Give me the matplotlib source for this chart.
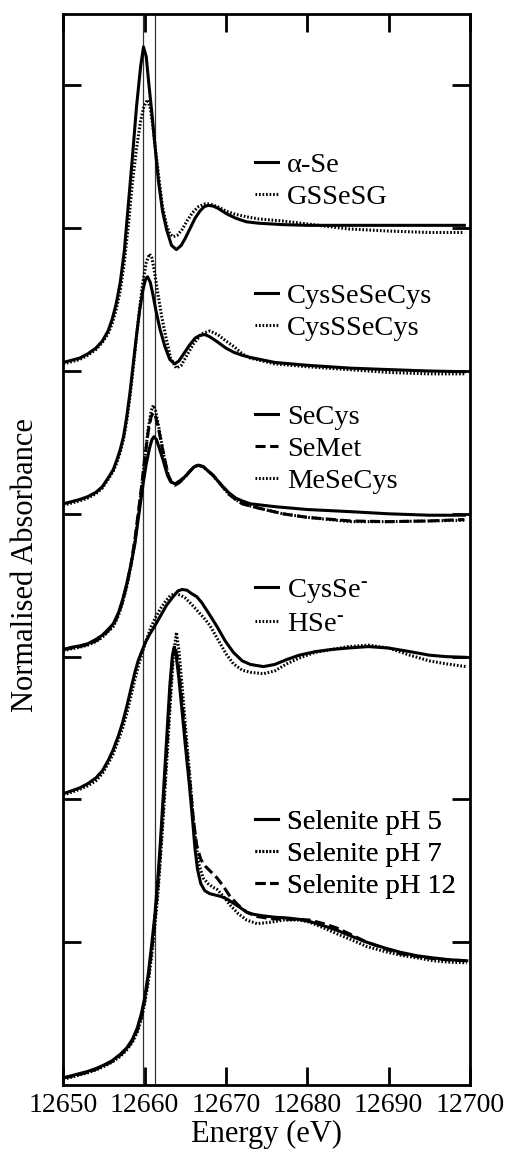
import matplotlib
matplotlib.use("Agg")
import matplotlib.pyplot as plt

plt.rcParams['font.family'] = ['Liberation Serif', 'DejaVu Serif']
plt.rcParams['mathtext.fontset'] = 'custom'
plt.rcParams['mathtext.rm'] = 'Liberation Serif'
plt.rcParams['mathtext.it'] = 'Liberation Serif:italic'

# ---------------- data (energy in eV, absorbance incl. vertical offset) -------------
# Group 1
aSe_E = [12650.0, 12651.0, 12652.0, 12653.0, 12654.0, 12654.8, 12655.5, 12656.0, 12656.5,
         12657.0, 12657.5, 12658.0, 12658.5, 12659.0, 12659.5, 12659.86, 12660.2, 12660.5,
         12660.9, 12661.3, 12661.7, 12662.2, 12662.7, 12663.3, 12663.9, 12664.5, 12665.0,
         12665.6, 12666.2, 12666.8, 12667.3, 12667.8, 12668.4, 12669.0, 12670.1, 12671.2,
         12672.5, 12674.0, 12677.0, 12680.0, 12685.0, 12690.0, 12695.0, 12699.3]
aSe_Y = [5.06, 5.075, 5.09, 5.12, 5.16, 5.21, 5.28, 5.36, 5.47,
         5.62, 5.84, 6.17, 6.50, 6.85, 7.13, 7.27, 7.20, 7.02,
         6.80, 6.56, 6.33, 6.12, 5.99, 5.88, 5.85, 5.88, 5.93,
         6.00, 6.07, 6.12, 6.15, 6.16, 6.155, 6.14, 6.10, 6.07,
         6.045, 6.035, 6.025, 6.02, 6.02, 6.02, 6.02, 6.02]
gss_E = [12650.0, 12651.0, 12652.0, 12653.0, 12654.0, 12654.8, 12655.5, 12656.0, 12656.5,
         12657.0, 12657.5, 12658.0, 12658.5, 12659.0, 12659.5, 12659.9, 12660.36, 12660.7,
         12661.0, 12661.4, 12661.8, 12662.2, 12662.7, 12663.1, 12663.5, 12664.0, 12664.6,
         12665.2, 12665.9, 12666.6, 12667.4, 12668.0, 12669.0, 12670.0, 12671.0, 12672.5,
         12674.0, 12677.0, 12680.0, 12685.0, 12690.0, 12695.0, 12699.3]
gss_Y = [5.05, 5.065, 5.08, 5.11, 5.15, 5.20, 5.26, 5.33, 5.43,
         5.56, 5.76, 6.02, 6.32, 6.56, 6.75, 6.85, 6.90, 6.84,
         6.72, 6.52, 6.33, 6.15, 6.02, 5.96, 5.94, 5.95, 5.99,
         6.05, 6.11, 6.15, 6.17, 6.17, 6.15, 6.12, 6.10, 6.08,
         6.065, 6.05, 6.03, 5.995, 5.98, 5.97, 5.97]
# Group 2
cssc_E = [12650.0, 12651.0, 12652.0, 12653.0, 12654.0, 12654.8, 12655.5, 12656.15, 12656.6,
          12657.0, 12657.4, 12657.8, 12658.2, 12658.6, 12659.0, 12659.4, 12659.8, 12660.1,
          12660.36, 12660.7, 12661.0, 12661.4, 12661.9, 12662.5, 12663.1, 12663.7, 12664.2,
          12664.8, 12665.5, 12666.2, 12666.8, 12667.4, 12668.0, 12668.8, 12670.0, 12671.0,
          12672.0, 12673.0, 12676.0, 12680.0, 12685.3, 12690.0, 12695.0, 12699.3]
cssc_Y = [4.07, 4.085, 4.10, 4.12, 4.15, 4.19, 4.25, 4.31, 4.38,
          4.45, 4.54, 4.68, 4.85, 5.05, 5.25, 5.43, 5.57, 5.64,
          5.66, 5.62, 5.54, 5.42, 5.29, 5.17, 5.08, 5.05, 5.07,
          5.12, 5.18, 5.23, 5.25, 5.255, 5.24, 5.21, 5.16, 5.13,
          5.11, 5.095, 5.06, 5.04, 5.02, 5.01, 5.00, 4.995]
cs_sc_E = [12650.0, 12651.0, 12652.0, 12653.0, 12654.0, 12654.8, 12655.5, 12656.15, 12656.6,
           12657.0, 12657.4, 12657.8, 12658.2, 12658.6, 12659.0, 12659.4, 12659.8, 12660.2,
           12660.6, 12660.9, 12661.2, 12661.6, 12662.1, 12662.6, 12663.2, 12663.9, 12664.5,
           12665.2, 12666.0, 12667.0, 12668.0, 12669.0, 12670.0, 12671.0, 12672.0, 12673.0,
           12676.0, 12680.0, 12685.0, 12690.0, 12695.0, 12699.3]
cs_sc_Y = [4.06, 4.075, 4.09, 4.11, 4.14, 4.18, 4.24, 4.30, 4.36,
           4.43, 4.52, 4.65, 4.82, 5.02, 5.24, 5.45, 5.63, 5.76,
           5.82, 5.79, 5.70, 5.55, 5.38, 5.24, 5.09, 5.02, 5.04,
           5.11, 5.19, 5.26, 5.28, 5.255, 5.21, 5.17, 5.12, 5.09,
           5.05, 5.03, 5.01, 4.99, 4.98, 4.98]
# Group 3
secys_E = [12650.0, 12651.0, 12652.0, 12653.0, 12654.0, 12654.8, 12655.5, 12656.15, 12656.8,
           12657.3, 12657.8, 12658.3, 12658.8, 12659.2, 12659.5, 12659.84, 12660.2, 12660.6,
           12660.9, 12661.15, 12661.45, 12661.8, 12662.3, 12662.8, 12663.2, 12663.73, 12664.3,
           12664.96, 12665.6, 12666.1, 12666.6, 12667.2, 12667.8, 12668.4, 12669.3, 12670.3,
           12671.2, 12672.0, 12673.0, 12676.0, 12680.0, 12685.3, 12690.0, 12695.0, 12699.3]
secys_Y = [3.05, 3.065, 3.075, 3.09, 3.12, 3.15, 3.19, 3.23, 3.31,
           3.40, 3.51, 3.64, 3.79, 3.96, 4.08, 4.22, 4.35, 4.46,
           4.52, 4.54, 4.52, 4.46, 4.37, 4.27, 4.225, 4.21, 4.23,
           4.26, 4.30, 4.33, 4.34, 4.33, 4.30, 4.27, 4.21, 4.15,
           4.11, 4.09, 4.07, 4.05, 4.03, 4.015, 4.00, 3.99, 3.99]
semet_E = [12650.0, 12651.0, 12652.0, 12653.0, 12654.0, 12654.8, 12655.5, 12656.15, 12656.8,
           12657.3, 12657.8, 12658.3, 12658.8, 12659.2, 12659.6, 12660.0, 12660.45, 12660.8,
           12661.07, 12661.35, 12661.7, 12662.1, 12662.5, 12662.9, 12663.3, 12663.73, 12664.3,
           12664.96, 12665.6, 12666.1, 12666.6, 12667.2, 12667.8, 12668.4, 12669.3, 12670.3,
           12671.2, 12672.0, 12674.0, 12677.0, 12680.0, 12685.3, 12690.0, 12695.0, 12699.3]
semet_Y = [3.05, 3.06, 3.07, 3.085, 3.11, 3.14, 3.18, 3.22, 3.30,
           3.39, 3.50, 3.64, 3.82, 4.00, 4.18, 4.38, 4.58, 4.68,
           4.71, 4.68, 4.60, 4.48, 4.37, 4.27, 4.22, 4.20, 4.22,
           4.26, 4.30, 4.33, 4.34, 4.33, 4.30, 4.27, 4.21, 4.14,
           4.10, 4.07, 4.04, 4.00, 3.975, 3.95, 3.945, 3.95, 3.96]
mesec_E = [12650.0, 12651.0, 12652.0, 12653.0, 12654.0, 12654.8, 12655.5, 12656.15, 12656.8,
           12657.3, 12657.8, 12658.3, 12658.8, 12659.2, 12659.6, 12660.0, 12660.45, 12660.8,
           12661.07, 12661.35, 12661.7, 12662.1, 12662.5, 12662.9, 12663.3, 12663.8, 12664.3,
           12665.0, 12665.6, 12666.1, 12666.6, 12667.2, 12667.8, 12668.4, 12669.3, 12670.3,
           12671.2, 12672.0, 12674.0, 12677.0, 12680.0, 12685.3, 12690.0, 12695.0, 12699.3]
mesec_Y = [3.04, 3.055, 3.065, 3.08, 3.105, 3.135, 3.175, 3.21, 3.29,
           3.38, 3.49, 3.63, 3.80, 3.98, 4.17, 4.38, 4.60, 4.72,
           4.76, 4.72, 4.62, 4.49, 4.37, 4.27, 4.22, 4.21, 4.22,
           4.26, 4.30, 4.33, 4.34, 4.33, 4.30, 4.27, 4.21, 4.14,
           4.10, 4.07, 4.04, 4.00, 3.975, 3.945, 3.945, 3.95, 3.955]
# Group 4
cysse_E = [12650.0, 12651.0, 12652.0, 12653.0, 12654.0, 12654.8, 12655.5, 12656.15, 12656.8,
           12657.3, 12657.8, 12658.3, 12658.8, 12659.2, 12659.6, 12660.1, 12660.66, 12661.3,
           12661.9, 12662.7, 12663.5, 12664.1, 12664.6, 12665.2, 12665.8, 12666.4, 12667.0,
           12667.8, 12668.9, 12669.9, 12670.9, 12672.0, 12673.0, 12674.6, 12676.0, 12677.5,
           12679.0, 12681.0, 12683.0, 12685.0, 12687.5, 12690.0, 12692.6, 12695.0, 12697.0,
           12699.5]
cysse_Y = [2.04, 2.06, 2.08, 2.11, 2.15, 2.20, 2.27, 2.35, 2.45,
           2.54, 2.65, 2.77, 2.89, 2.97, 3.03, 3.10, 3.16, 3.22,
           3.28, 3.36, 3.42, 3.46, 3.47, 3.465, 3.44, 3.42, 3.38,
           3.31, 3.21, 3.11, 3.03, 2.97, 2.945, 2.93, 2.945, 2.98,
           3.01, 3.035, 3.05, 3.06, 3.07, 3.06, 3.035, 3.01, 3.00,
           2.995]
hse_E = [12650.0, 12651.0, 12652.0, 12653.0, 12654.0, 12654.8, 12655.5, 12656.15, 12656.8,
         12657.3, 12657.8, 12658.3, 12658.8, 12659.3, 12659.84, 12660.3, 12660.8, 12661.4,
         12662.0, 12662.6, 12663.2, 12663.8, 12664.4, 12665.0, 12665.7, 12666.5, 12667.3,
         12668.0, 12669.0, 12670.0, 12670.9, 12672.0, 12673.0, 12674.6, 12676.0, 12677.5,
         12679.0, 12681.0, 12683.0, 12685.0, 12687.5, 12690.0, 12692.6, 12695.0, 12697.0,
         12699.5]
hse_Y = [2.03, 2.05, 2.07, 2.095, 2.13, 2.18, 2.25, 2.32, 2.42,
         2.50, 2.60, 2.72, 2.84, 2.95, 3.05, 3.13, 3.21, 3.28,
         3.34, 3.39, 3.43, 3.44, 3.43, 3.41, 3.37, 3.32, 3.27,
         3.22, 3.12, 3.02, 2.95, 2.905, 2.89, 2.88, 2.90, 2.95,
         2.99, 3.03, 3.05, 3.07, 3.08, 3.06, 3.01, 2.97, 2.95,
         2.93]
# Group 5
sel5_E = [12650.0, 12651.0, 12652.0, 12653.0, 12654.0, 12655.0, 12656.0, 12657.0, 12657.8,
          12658.5, 12659.1, 12659.6, 12660.0, 12660.45, 12660.9, 12661.27, 12661.6, 12661.9,
          12662.3, 12662.7, 12663.1, 12663.4, 12663.6, 12663.85, 12664.2, 12664.6, 12665.0,
          12665.5, 12665.9, 12666.2, 12666.5, 12666.9, 12667.4, 12668.0, 12668.7, 12669.4,
          12670.2, 12671.0, 12671.8, 12672.55, 12673.4, 12674.5, 12676.0, 12677.5, 12679.0,
          12680.3, 12682.0, 12683.6, 12685.5, 12687.3, 12689.5, 12691.4, 12693.5, 12695.5,
          12697.5, 12699.6]
sel5_Y = [0.05, 0.065, 0.08, 0.095, 0.115, 0.14, 0.17, 0.215, 0.26,
          0.32, 0.40, 0.50, 0.61, 0.78, 1.00, 1.20, 1.43, 1.67,
          2.04, 2.42, 2.80, 3.00, 3.06, 3.02, 2.85, 2.62, 2.38,
          2.10, 1.85, 1.65, 1.51, 1.41, 1.36, 1.34, 1.33, 1.32,
          1.30, 1.27, 1.24, 1.21, 1.195, 1.185, 1.175, 1.17, 1.16,
          1.145, 1.115, 1.085, 1.04, 1.00, 0.96, 0.93, 0.905, 0.89,
          0.877, 0.87]
sel7_E = [12650.0, 12651.0, 12652.0, 12653.0, 12654.0, 12655.0, 12656.0, 12657.0, 12657.8,
          12658.5, 12659.1, 12659.6, 12660.0, 12660.45, 12660.9, 12661.27, 12661.6, 12661.9,
          12662.3, 12662.7, 12663.1, 12663.5, 12663.9, 12664.2, 12664.6, 12665.0, 12665.5,
          12665.9, 12666.3, 12666.7, 12667.2, 12667.8, 12668.4, 12668.9, 12669.7, 12670.5,
          12671.5, 12672.55, 12673.8, 12675.5, 12677.1, 12679.0, 12680.3, 12682.0, 12683.6,
          12685.5, 12687.3, 12689.5, 12691.4, 12693.5, 12695.5, 12697.5, 12699.6]
sel7_Y = [0.04, 0.055, 0.07, 0.085, 0.105, 0.13, 0.16, 0.20, 0.245,
          0.30, 0.37, 0.46, 0.57, 0.72, 0.92, 1.12, 1.32, 1.55,
          1.88, 2.25, 2.62, 2.98, 3.17, 3.05, 2.80, 2.52, 2.20,
          1.92, 1.70, 1.54, 1.45, 1.41, 1.385, 1.37, 1.32, 1.26,
          1.20, 1.155, 1.13, 1.14, 1.155, 1.155, 1.14, 1.10, 1.06,
          1.015, 0.97, 0.935, 0.91, 0.89, 0.87, 0.86, 0.856]
sel12_E = [12650.0, 12651.0, 12652.0, 12653.0, 12654.0, 12655.0, 12656.0, 12657.0, 12657.8,
           12658.5, 12659.1, 12659.6, 12660.0, 12660.45, 12660.9, 12661.27, 12661.6, 12661.9,
           12662.3, 12662.7, 12663.1, 12663.45, 12663.7, 12664.0, 12664.3, 12664.7, 12665.1,
           12665.6, 12666.0, 12666.4, 12666.9, 12667.5, 12668.2, 12668.9, 12669.7, 12670.5,
           12671.5, 12672.55, 12673.8, 12675.5, 12677.1, 12679.0, 12680.3, 12682.0, 12683.6,
           12685.5, 12687.3, 12689.5, 12691.4, 12693.5, 12695.5, 12697.5, 12699.6]
sel12_Y = [0.05, 0.06, 0.075, 0.09, 0.11, 0.135, 0.165, 0.21, 0.25,
           0.31, 0.385, 0.48, 0.59, 0.75, 0.96, 1.16, 1.37, 1.61,
           1.96, 2.33, 2.72, 3.00, 3.08, 3.00, 2.85, 2.62, 2.38,
           2.10, 1.85, 1.68, 1.58, 1.53, 1.49, 1.45, 1.39, 1.32,
           1.26, 1.21, 1.18, 1.165, 1.16, 1.16, 1.155, 1.13, 1.10,
           1.05, 1.00, 0.955, 0.92, 0.90, 0.885, 0.875, 0.87]

groups = [
    [("α-Se", aSe_E, aSe_Y, 'solid'), ("GSSeSG", gss_E, gss_Y, 'dotted')],
    [("CysSeSeCys", cssc_E, cssc_Y, 'solid'), ("CysSSeCys", cs_sc_E, cs_sc_Y, 'dotted')],
    [("SeCys", secys_E, secys_Y, 'solid'), ("SeMet", semet_E, semet_Y, 'dashed'),
     ("MeSeCys", mesec_E, mesec_Y, 'dotted')],
    [(r"CysSe$^{\text{-}}$", cysse_E, cysse_Y, 'solid'),
     (r"HSe$^{\text{-}}$", hse_E, hse_Y, 'dotted')],
    [("Selenite pH 5", sel5_E, sel5_Y, 'solid'), ("Selenite pH 7", sel7_E, sel7_Y, 'dotted'),
     ("Selenite pH 12", sel12_E, sel12_Y, 'dashed')],
]
# legend anchor (data coords: energy, absorbance) per group
legend_anchor = [(12673.57, 6.535), (12673.57, 5.616), (12673.57, 4.771),
                 (12673.57, 3.56), (12673.57, 1.935)]
ref_lines = [12659.85, 12661.27]
xticks = [12650, 12660, 12670, 12680, 12690, 12700]
yticks = [1, 2, 3, 4, 5, 6, 7]

styles = {'solid': '-', 'dotted': (0, (0.55, 0.6)), 'dashed': (0, (3.3, 1.5))}

fig = plt.figure(figsize=(5.1, 11.5), dpi=100)
ax = fig.add_axes([63.3 / 510, 65 / 1150, 406.7 / 510, 1071 / 1150])

for e in ref_lines:
    ax.axvline(e, color='#333333', lw=0.9, zorder=1)

lw = 2.2
for gi, grp in enumerate(groups):
    handles = []
    for label, E, Y, st in grp:
        ln, = ax.plot(E, Y, color='black', lw=lw, linestyle=styles[st],
                      label=label, zorder=3)
        handles.append(ln)
    leg = ax.legend(handles=handles, loc='upper left', bbox_to_anchor=legend_anchor[gi],
                    bbox_transform=ax.transData, frameon=False, fontsize=20.5,
                    handlelength=0.81, handletextpad=0.31, labelspacing=0.22,
                    borderpad=0, borderaxespad=0)
    ax.add_artist(leg)

ax.set_xlim(12650, 12700)
ax.set_ylim(0, 7.5)
ax.set_xticks(xticks)
ax.set_xticklabels([str(t) for t in xticks])
ax.set_yticks(yticks)
ax.set_yticklabels([])
ax.tick_params(axis='both', direction='in', length=13, width=2, top=True, right=True,
               labelsize=20, pad=5.5)
for s in ax.spines.values():
    s.set_linewidth(2)
ax.set_xlabel("Energy (eV)", fontsize=22, labelpad=2)
ax.set_ylabel("Normalised Absorbance", fontsize=22)
ax.yaxis.set_label_coords(-0.058, 0.4855)

fig.savefig("out.png", dpi=100)
